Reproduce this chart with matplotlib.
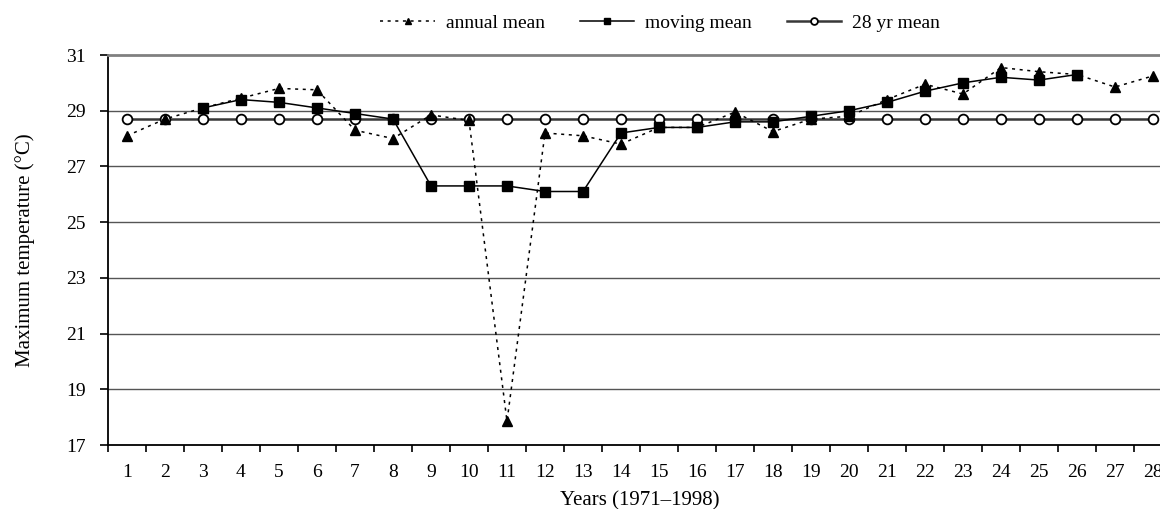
import matplotlib.pyplot as plt
import numpy as np

years = list(range(1, 29))
annual_mean = [28.1, 28.7, 29.1, 29.45, 29.8, 29.75, 28.3, 28.0, 28.85, 28.65,
               17.85, 28.2, 28.1, 27.8, 28.4, 28.4, 28.95, 28.25, 28.7, 28.8,
               29.4, 29.95, 29.6, 30.55, 30.4, 30.3, 29.85, 30.25]
moving_years = list(range(3, 27))
moving_mean = [29.1, 29.4, 29.3, 29.1, 28.9, 28.7, 26.3, 26.3, 26.3, 26.1,
               26.1, 28.2, 28.4, 28.4, 28.6, 28.6, 28.8, 29.0, 29.3, 29.7,
               30.0, 30.2, 30.1, 30.3]
long_mean = [28.7] * 28

plt.rcParams['font.family'] = ['Liberation Serif', 'DejaVu Serif']

fig = plt.figure(figsize=(11.6, 5.09), dpi=100)
ax = fig.add_axes([108 / 1160, 64 / 509, 1064 / 1160, 390 / 509])

for y in range(19, 30, 2):
    ax.axhline(y, color='#555555', lw=1, zorder=1)

ax.plot(years, long_mean, color='#383838', lw=1.8, marker='o', ms=7,
        mfc='white', mec='black', mew=1.3, label='28 yr mean', zorder=2)
ax.plot(moving_years, moving_mean, color='black', lw=1.1, marker='s', ms=7,
        label='moving mean', zorder=3)
ax.plot(years, annual_mean, color='black', lw=1.1, ls=(0, (2, 3)), marker='^',
        ms=7, label='annual mean', zorder=4)

ax.set_xlim(0.5, 28.5)
ax.set_ylim(17, 31)
ax.set_yticks(range(17, 32, 2))
ax.set_xticks(years)
ax.set_xticks(np.arange(0.5, 29, 1), minor=True)
ax.tick_params(axis='x', which='major', length=0, pad=14, labelsize=14)
ax.tick_params(axis='x', which='minor', length=5, width=1.2, direction='out')
ax.tick_params(axis='y', length=6, width=1.2, direction='out', labelsize=14, pad=10)

ax.spines['right'].set_visible(False)
ax.spines['top'].set_color('#808080')
ax.spines['top'].set_linewidth(2)
ax.spines['left'].set_linewidth(1.3)
ax.spines['bottom'].set_linewidth(1.3)

ax.set_xlabel('Years (1971\u20131998)', fontsize=15, labelpad=7)
ax.set_ylabel('Maximum temperature (\u00b0C)', fontsize=15, labelpad=22)

handles, labels = ax.get_legend_handles_labels()
leg = fig.legend(handles[::-1], labels[::-1], loc='center', ncol=3,
                 bbox_to_anchor=(660 / 1160, 1 - 23 / 509), frameon=False,
                 fontsize=14, handlelength=2.8, columnspacing=1.8,
                 handletextpad=0.55, markerscale=0.7)

fig.savefig('out.png', dpi=100)
